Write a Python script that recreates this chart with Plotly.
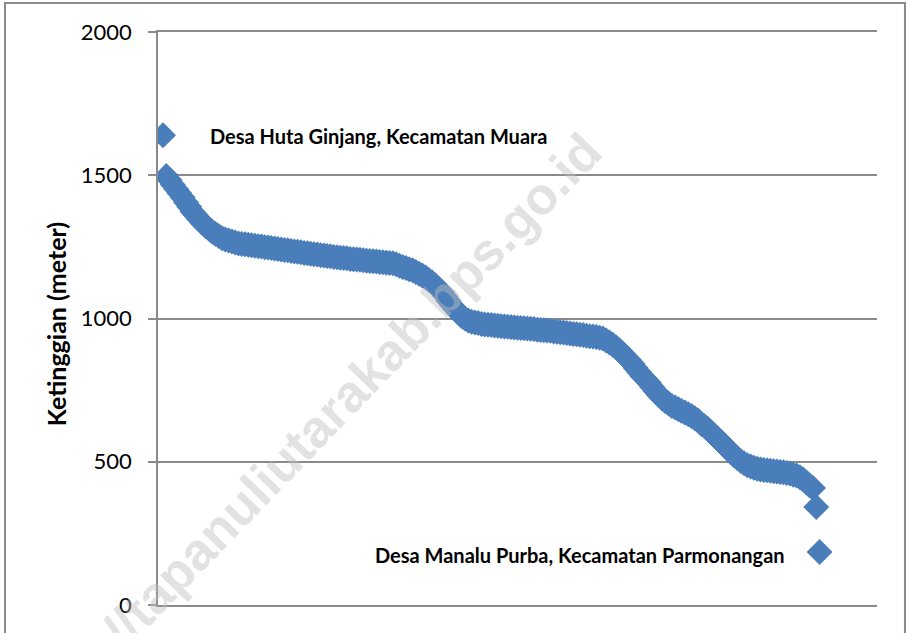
import plotly.graph_objects as go

# ketinggian desa (meter), diurutkan dari yang tertinggi
heights = [
    1640, 1497, 1483, 1467, 1452, 1437, 1422, 1406, 1390, 1373,
    1360, 1346, 1333, 1322, 1313, 1303, 1295, 1288, 1280, 1276,
    1272, 1269, 1265, 1262, 1260, 1259, 1257, 1256, 1254, 1252,
    1251, 1249, 1248, 1246, 1244, 1243, 1241, 1239, 1238, 1236,
    1234, 1233, 1231, 1229, 1228, 1226, 1224, 1223, 1221, 1220,
    1218, 1217, 1215, 1214, 1212, 1211, 1210, 1208, 1207, 1206,
    1205, 1203, 1202, 1201, 1200, 1199, 1197, 1196, 1195, 1194,
    1193, 1189, 1184, 1180, 1176, 1172, 1168, 1162, 1156, 1150,
    1143, 1134, 1126, 1115, 1103, 1092, 1077, 1061, 1046, 1033,
    1020, 1008, 1000, 993, 989, 986, 984, 981, 979, 978,
    977, 976, 975, 973, 972, 971, 970, 969, 968, 967,
    966, 965, 964, 963, 961, 960, 959, 958, 957, 955,
    954, 952, 951, 949, 948, 946, 945, 943, 942, 940,
    938, 937, 935, 933, 930, 923, 916, 908, 900, 889,
    878, 866, 854, 842, 827, 813, 799, 788, 776, 761,
    747, 734, 722, 711, 703, 695, 689, 683, 677, 672,
    666, 660, 652, 644, 632, 624, 614, 602, 591, 580,
    569, 558, 545, 533, 522, 512, 503, 495, 488, 483,
    479, 476, 473, 471, 470, 469, 467, 466, 464, 463,
    461, 459, 455, 452, 446, 438, 428, 417, 408, 342,
    185,
]
ranks = list(range(1, len(heights) + 1))

y_ticks = [0, 500, 1000, 1500, 2000]
label_top = "Desa Huta Ginjang, Kecamatan Muara"
label_bottom = "Desa Manalu Purba, Kecamatan Parmonangan"
y_title = "Ketinggian (meter)"
watermark = "http://tapanuliutarakab.bps.go.id"

GRID = "#8a8a8a"
FONT = "Lato"

fig = go.Figure()
fig.add_trace(go.Scatter(
    x=ranks, y=heights, mode="markers",
    marker=dict(symbol="diamond", size=20, color="#4A7EBB", line=dict(width=0)),
    hoverinfo="y", showlegend=False))

fig.update_layout(
    width=910, height=633,
    margin=dict(l=158, r=33, t=32, b=28),
    paper_bgcolor="white", plot_bgcolor="white",
    font=dict(family=FONT, color="black"),
    showlegend=False)

# x axis: no labels, its line + mirror give the 0 and 2000 rules
fig.update_xaxes(range=[-0.52, 218.5], showticklabels=False, showgrid=False,
                 zeroline=False, showline=True, mirror=True, linecolor=GRID,
                 linewidth=1.5, ticks="")
fig.update_yaxes(range=[0, 2000], tickvals=y_ticks, showgrid=True,
                 gridcolor=GRID, gridwidth=1.5, zeroline=False,
                 showline=True, linecolor=GRID, linewidth=1.5,
                 ticks="outside", ticklen=8, tickcolor=GRID, tickwidth=1.5,
                 tickfont=dict(family=FONT, size=22), ticklabelstandoff=12)

fig.add_annotation(text=f"<b>{y_title}</b>", xref="paper", yref="paper",
                   x=-0.1419, y=0.49, textangle=-90, showarrow=False,
                   xanchor="center", yanchor="middle",
                   font=dict(family=FONT, size=25))
fig.add_annotation(text=f"<b>{label_top}</b>", xref="paper", yref="paper",
                   x=0.0695, y=0.8185, xanchor="left", yanchor="middle",
                   showarrow=False, font=dict(family=FONT, size=20))
fig.add_annotation(text=f"<b>{label_bottom}</b>", xref="paper", yref="paper",
                   x=0.875, y=0.0875, xanchor="right", yanchor="middle",
                   showarrow=False, font=dict(family=FONT, size=20))

# watermark
fig.add_annotation(text=f"<b>{watermark}</b>", xref="paper", yref="paper",
                   x=(312 - 158) / 719, y=(605 - 432) / 573, textangle=-46,
                   xanchor="center", yanchor="middle", showarrow=False,
                   font=dict(family="Liberation Sans", size=52,
                             color="rgba(190,190,190,0.45)"))

# outer frame of the chart
fig.add_shape(type="rect", xref="paper", yref="paper",
              x0=-0.2128, x1=1.0389, y0=-0.1, y1=1.0506,
              line=dict(color=GRID, width=2))

fig.write_html("out.html", config={"displayModeBar": False},
               post_script="document.body.style.margin = '0';")
